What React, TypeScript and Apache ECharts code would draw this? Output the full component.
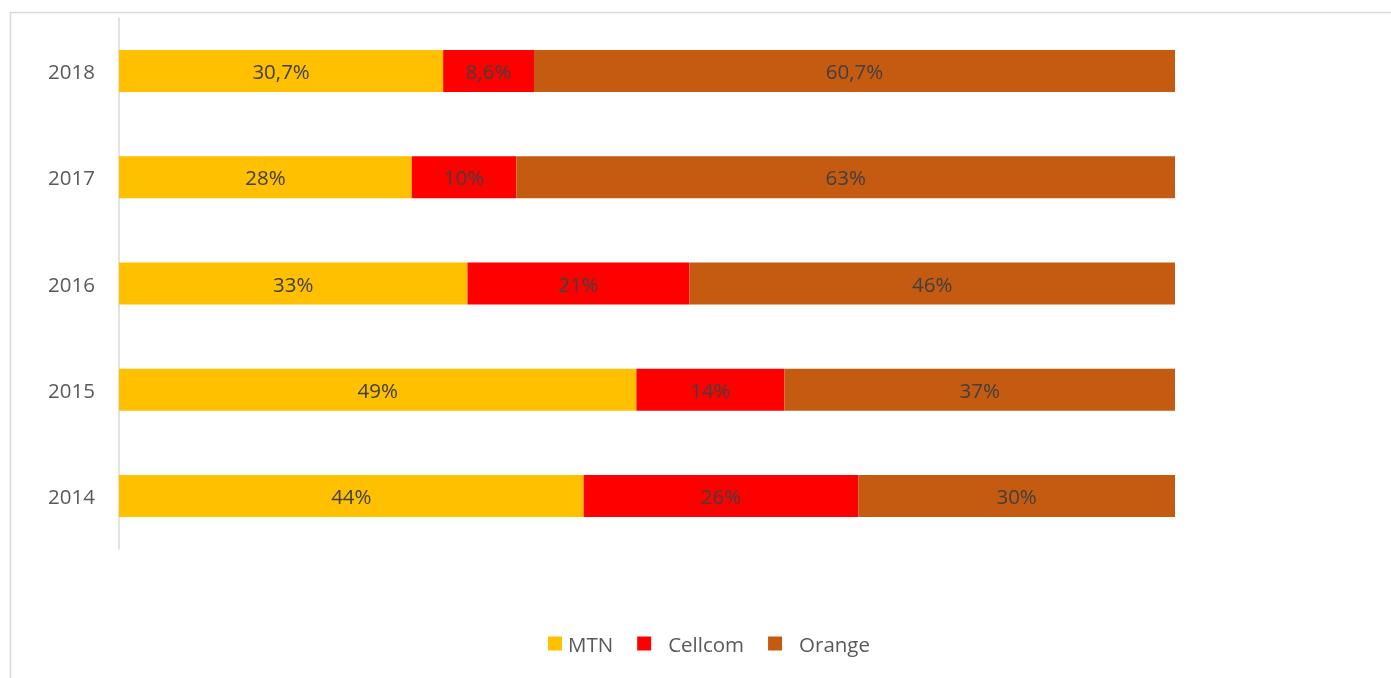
import React, { useEffect, useRef } from "react";
import * as echarts from "echarts";

const years = ["2014", "2015", "2016", "2017", "2018"];
const mtn = [44, 49, 33, 28, 30.7];
const cellcom = [26, 14, 21, 10, 8.6];
const orange = [30, 37, 46, 63, 60.7];
const seriesNames = ["MTN", "Cellcom", "Orange"];
const colors = ["#FFC000", "#FF0000", "#C55A11"];

export default function App() {
  const ref = useRef<HTMLDivElement>(null);
  useEffect(() => {
    document.body.style.margin = "0";
    document.body.style.overflow = "hidden";
    const chart = echarts.init(ref.current!, null, { renderer: "svg" });
    const raw = [mtn, cellcom, orange];
    const totals = years.map((_, i) => raw.reduce((s, arr) => s + arr[i], 0));
    const fmt = (v: number) => String(v).replace(".", ",") + "%";
    chart.setOption({
      animation: false,
      color: colors,
      grid: { left: 119, right: 216, top: 18, bottom: 129, containLabel: false },
      xAxis: {
        type: "value",
        min: 0,
        max: 100,
        show: false,
      },
      yAxis: {
        type: "category",
        data: years,
        axisLine: { show: true, lineStyle: { color: "#d9d9d9", width: 1.5 } },
        axisTick: { show: false },
        axisLabel: {
          color: "#595959",
          fontSize: 20.5,
          fontFamily: "Open Sans",
          margin: 24,
        },
      },
      legend: {
        bottom: 19,
        left: 543,
        itemWidth: 14,
        itemHeight: 14,
        itemGap: 24,
        icon: "rect",
        textStyle: { color: "#595959", fontSize: 20.5, fontFamily: "Open Sans" },
        data: [
          { name: "MTN", textStyle: { padding: [0, 0, 0, 1] } },
          { name: "Cellcom", textStyle: { padding: [0, 0, 0, 12] } },
          { name: "Orange", textStyle: { padding: [0, 0, 0, 12] } },
        ],
      },
      graphic: [
        { type: "line", shape: { x1: 10.5, y1: 12, x2: 10.5, y2: 678 }, style: { stroke: "#d9d9d9", lineWidth: 1.5 } },
        { type: "line", shape: { x1: 10, y1: 12.5, x2: 1391, y2: 12.5 }, style: { stroke: "#d9d9d9", lineWidth: 1.5 } },
      ],
      series: raw.map((arr, si) => ({
        name: seriesNames[si],
        type: "bar",
        stack: "total",
        barWidth: 42,
        data: arr.map((v, i) => (v / totals[i]) * 100),
        itemStyle: { color: colors[si] },
        label: {
          show: true,
          position: "inside",
          color: "#404040",
          fontSize: 20.5,
          fontFamily: "Open Sans",
          formatter: (p: any) => fmt(arr[p.dataIndex]),
        },
      })),
    });
    return () => chart.dispose();
  }, []);
  return <div ref={ref} style={{ position: "fixed", left: 0, top: 0, width: 1391, height: 678 }} />;
}
